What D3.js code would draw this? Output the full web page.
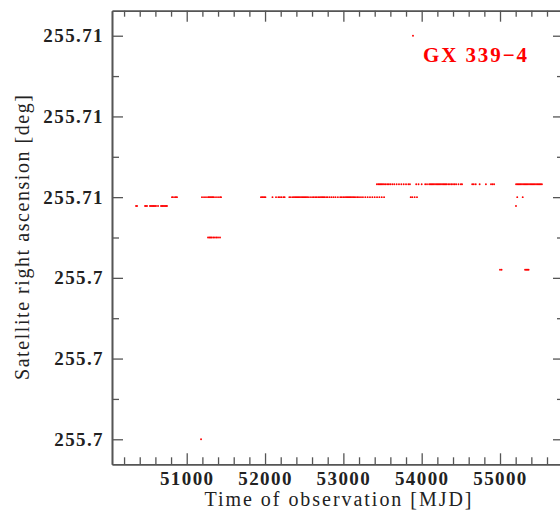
<!DOCTYPE html>
<html>
<head>
<meta charset="utf-8">
<script src="https://cdn.jsdelivr.net/npm/d3@7"></script>
<style>
  body { margin: 0; background: #fff; }
  svg { display: block; }
</style>
</head>
<body>
<svg id="chart"></svg>
<script>
// RA levels (deg) the satellite pointing sits at
const raLevelA = 255.70539;
const raLevelB = 255.70550;
const raLevelC = 255.70566;
const raLevelD = 255.70500;
const raLevelE = 255.70460;
const raTop = 255.7075;
const raBottom = 255.7025;

// observation times (MJD) for each level
const mjdA = [50353, 50366, 50468, 50480, 50493, 50531, 50544, 50557, 50570, 50582, 50595, 50608, 50634,
  50672, 50685, 50697, 50710, 50723, 50736, 50748, 55204];
const mjdB = [50812, 50825, 50850, 50863, 50876, 51195, 51221, 51246, 51272, 51284, 51297, 51310, 51323,
  51335, 51348, 51374, 51400, 51425, 51438, 51948, 51962, 51975, 51990, 52005, 52095, 52140, 52170, 52190,
  52210, 52235, 52250, 52310, 52330, 52355, 52370, 52385, 52400, 52415, 52430, 52445, 52460, 52475, 52490,
  52505, 52520, 52535, 52550, 52575, 52600, 52620, 52640, 52660, 52680, 52700, 52715, 52730, 52745, 52760,
  52780, 52800, 52825, 52850, 52875, 52900, 52930, 52960, 52980, 53000, 53020, 53035, 53050, 53065, 53080,
  53095, 53110, 53125, 53140, 53160, 53180, 53200, 53225, 53250, 53280, 53310, 53340, 53370, 53400, 53430,
  53460, 53490, 53520, 53860, 53880, 53910, 53940, 55220, 55290];
const mjdC = [53428, 53445, 53460, 53475, 53490, 53505, 53520, 53540, 53560, 53580, 53600, 53625, 53650,
  53680, 53710, 53740, 53770, 53800, 53830, 53850, 53930, 53960, 54000, 54045, 54068, 54095, 54110, 54125,
  54140, 54155, 54170, 54185, 54200, 54215, 54230, 54245, 54260, 54275, 54290, 54305, 54320, 54340, 54360,
  54380, 54400, 54420, 54440, 54470, 54500, 54515, 54645, 54665, 54690, 54740, 54820, 54885, 54905, 54925,
  55205, 55220, 55235, 55250, 55265, 55280, 55295, 55310, 55325, 55340, 55355, 55370, 55385, 55400, 55415,
  55430, 55445, 55460, 55475, 55490, 55505, 55520, 55535];
const mjdD = [51272, 51290, 51305, 51320, 51340, 51360, 51380, 51400, 51425];
const mjdE = [55000, 55020, 55320, 55335, 55350, 55365];
const mjdTop = [53889];
const mjdBottom = [51183];

// axis ticks
const xTicks = [51000, 52000, 53000, 54000, 55000];
const xMinor = [50200, 50400, 50600, 50800, 51200, 51400, 51600, 51800, 52200, 52400, 52600, 52800,
  53200, 53400, 53600, 53800, 54200, 54400, 54600, 54800, 55200, 55400, 55600, 55800];
const yTicks = [255.7075, 255.7065, 255.7055, 255.7045, 255.7035, 255.7025];
const yTickLabels = ["255.71", "255.71", "255.71", "255.7", "255.7", "255.7"];
const yMinor = [255.7070, 255.7060, 255.7050, 255.7040, 255.7030];

const sourceName = "GX 339\u22124";

const points = [];
[[mjdA, raLevelA], [mjdB, raLevelB], [mjdC, raLevelC], [mjdD, raLevelD], [mjdE, raLevelE],
 [mjdTop, raTop], [mjdBottom, raBottom]].forEach(([list, ra]) => {
  list.forEach(m => points.push({mjd: m, ra: ra}));
});

const width = 560, height = 515;
const margin = {top: 10.7, right: -4, bottom: 50.7, left: 112};

const svg = d3.select("#chart")
  .attr("width", width)
  .attr("height", height)
  .attr("viewBox", [0, 0, width, height]);

const x = d3.scaleLinear()
  .domain([50046, 55817])
  .range([margin.left, width - margin.right]);
const y = d3.scaleLinear()
  .domain([255.70219, 255.70781])
  .range([height - margin.bottom, margin.top]);

const axisColor = "#555";
const textColor = "#222";
const tickFont = "bold 19px 'Liberation Serif', serif";

function styleAxis(g) {
  g.select(".domain").attr("stroke", axisColor).attr("stroke-width", 1.6);
  g.selectAll(".tick line").attr("stroke", axisColor).attr("stroke-width", 1.3);
}

// bottom
svg.append("g")
  .attr("transform", `translate(0,${y.range()[0]})`)
  .call(d3.axisBottom(x).tickValues(xMinor).tickSize(-7).tickSizeOuter(0).tickFormat(""))
  .call(styleAxis);
svg.append("g")
  .attr("transform", `translate(0,${y.range()[0]})`)
  .call(d3.axisBottom(x).tickValues(xTicks).tickSize(-11).tickSizeOuter(0).tickPadding(7).tickFormat(d3.format("d")))
  .call(styleAxis)
  .call(g => g.selectAll("text")
    .attr("fill", textColor)
    .style("font", tickFont)
    .style("letter-spacing", "1.4px"));

// top
svg.append("g")
  .attr("transform", `translate(0,${y.range()[1]})`)
  .call(d3.axisTop(x).tickValues(xMinor).tickSize(-6).tickSizeOuter(0).tickFormat(""))
  .call(styleAxis);
svg.append("g")
  .attr("transform", `translate(0,${y.range()[1]})`)
  .call(d3.axisTop(x).tickValues(xTicks).tickSize(-11).tickSizeOuter(0).tickFormat(""))
  .call(styleAxis);

// left
svg.append("g")
  .attr("transform", `translate(${x.range()[0]},0)`)
  .call(d3.axisLeft(y).tickValues(yMinor).tickSize(-7).tickSizeOuter(0).tickFormat(""))
  .call(styleAxis);
svg.append("g")
  .attr("transform", `translate(${x.range()[0]},0)`)
  .call(d3.axisLeft(y).tickValues(yTicks).tickSize(-11).tickSizeOuter(0).tickPadding(8)
    .tickFormat((d, i) => yTickLabels[i]))
  .call(styleAxis)
  .call(g => g.selectAll("text")
    .attr("fill", textColor)
    .style("font", tickFont)
    .style("letter-spacing", "1.4px"));

// right
svg.append("g")
  .attr("transform", `translate(${x.range()[1]},0)`)
  .call(d3.axisRight(y).tickValues(yMinor).tickSize(-7).tickSizeOuter(0).tickFormat(""))
  .call(styleAxis);
svg.append("g")
  .attr("transform", `translate(${x.range()[1]},0)`)
  .call(d3.axisRight(y).tickValues(yTicks).tickSize(-11).tickSizeOuter(0).tickFormat(""))
  .call(styleAxis);

// data
svg.append("g")
  .selectAll("circle")
  .data(points)
  .join("circle")
  .attr("cx", d => x(d.mjd))
  .attr("cy", d => y(d.ra))
  .attr("r", 0.95)
  .attr("fill", "red");

// labels
const cx = (x.range()[0] + x.range()[1]) / 2;
svg.append("text")
  .attr("x", cx)
  .attr("y", 505.5)
  .attr("text-anchor", "middle")
  .attr("fill", textColor)
  .attr("textLength", 267)
  .attr("lengthAdjust", "spacing")
  .style("font", "20px 'Liberation Serif', serif")
  .text("Time of observation [MJD]");

svg.append("text")
  .attr("transform", `translate(29,${(y.range()[0] + y.range()[1]) / 2}) rotate(-90)`)
  .attr("text-anchor", "middle")
  .attr("fill", textColor)
  .attr("textLength", 285)
  .attr("lengthAdjust", "spacing")
  .style("font", "20px 'Liberation Serif', serif")
  .text("Satellite right ascension [deg]");

svg.append("text")
  .attr("x", 423)
  .attr("y", 62.3)
  .attr("fill", "red")
  .attr("textLength", 104)
  .attr("lengthAdjust", "spacing")
  .style("font", "bold 21px 'Liberation Serif', serif")
  .text(sourceName);
</script>
</body>
</html>
